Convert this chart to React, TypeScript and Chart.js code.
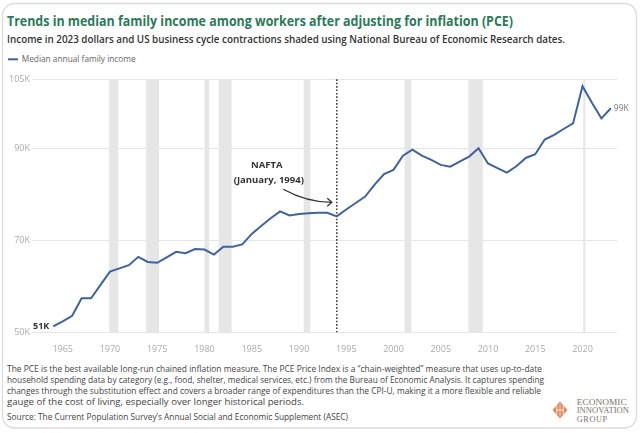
import React, { useEffect, useRef } from "react";
import { Chart, registerables } from "chart.js";

Chart.register(...registerables);

const years = [
  1964, 1965, 1966, 1967, 1968, 1969, 1970, 1971, 1972, 1973,
  1974, 1975, 1976, 1977, 1978, 1979, 1980, 1981, 1982, 1983,
  1984, 1985, 1986, 1987, 1988, 1989, 1990, 1991, 1992, 1993,
  1994, 1995, 1996, 1997, 1998, 1999, 2000, 2001, 2002, 2003,
  2004, 2005, 2006, 2007, 2008, 2009, 2010, 2011, 2012, 2013,
  2014, 2015, 2016, 2017, 2018, 2019, 2020, 2021, 2022, 2023,
];

// Median annual family income, thousands of 2023 dollars
const incomeK = [
  51.3, 52.4, 53.6, 57.4, 57.4, 60.3, 63.2, 63.9, 64.6, 66.4,
  65.3, 65.1, 66.3, 67.5, 67.2, 68.1, 68.0, 66.9, 68.6, 68.6,
  69.1, 71.4, 73.1, 74.8, 76.3, 75.4, 75.7, 75.9, 76.0, 76.0,
  75.2, 76.7, 78.1, 79.5, 82.1, 84.4, 85.3, 88.4, 89.7, 88.4,
  87.5, 86.4, 86.0, 87.1, 88.2, 90.0, 86.7, 85.7, 84.7, 86.1,
  87.9, 88.7, 91.9, 92.9, 94.2, 95.4, 103.5, 99.9, 96.5, 98.7,
];

const yTickValues = [50, 70, 90, 105];
const xTickValues = [1965, 1970, 1975, 1980, 1985, 1990, 1995, 2000, 2005, 2010, 2015, 2020];

// NBER contractions (decimal years)
const recessionStarts = [1969.92, 1973.83, 1980.0, 1981.5, 1990.5, 2001.17, 2007.92, 2020.08];
const recessionEnds = [1970.88, 1975.2, 1980.5, 1982.88, 1991.2, 2001.88, 2009.45, 2020.3];

const naftaYear = 1994;
const seriesLabel = "Median annual family income";

const LINE_COLOR = "#3f62a0";
const FONT = "'Open Sans', 'Noto Sans', sans-serif";

const overlayPlugin = {
  id: "overlay",
  beforeDatasetsDraw(chart: any) {
    const { ctx, chartArea: a, scales } = chart;
    const x = scales.x;
    ctx.save();
    ctx.fillStyle = "#e6e6e6";
    recessionStarts.forEach((s, i) => {
      const x0 = x.getPixelForValue(s);
      const x1 = x.getPixelForValue(recessionEnds[i]);
      ctx.fillRect(x0, a.top, Math.max(x1 - x0, 1.5), a.bottom - a.top);
    });
    const nx = x.getPixelForValue(naftaYear);
    ctx.strokeStyle = "#444";
    ctx.lineWidth = 1.6;
    ctx.setLineDash([1.6, 1.8]);
    ctx.beginPath();
    ctx.moveTo(nx, a.top);
    ctx.lineTo(nx, a.bottom);
    ctx.stroke();
    ctx.restore();
  },
  afterDatasetsDraw(chart: any) {
    const { ctx, scales } = chart;
    const x = scales.x;
    const y = scales.y;
    const nx = x.getPixelForValue(naftaYear);
    ctx.save();
    // NAFTA annotation
    ctx.fillStyle = "#333";
    ctx.font = `bold 9.5px ${FONT}`;
    ctx.textAlign = "center";
    ctx.textBaseline = "middle";
    ctx.fillText("NAFTA", nx - 70, y.getPixelForValue(86.2));
    ctx.fillText("(January, 1994)", nx - 68, y.getPixelForValue(83.0));
    // curved arrow
    const sx = nx - 53.5, sy = y.getPixelForValue(81.1);
    const ex = nx - 5, ey = y.getPixelForValue(78.26);
    ctx.strokeStyle = "#333";
    ctx.lineWidth = 1.3;
    ctx.beginPath();
    ctx.moveTo(sx, sy);
    ctx.quadraticCurveTo(nx - 30, ey, ex, ey);
    ctx.stroke();
    ctx.beginPath();
    ctx.moveTo(ex - 4.5, ey - 4);
    ctx.lineTo(ex, ey);
    ctx.lineTo(ex - 4.5, ey + 4);
    ctx.stroke();
    // end labels
    const first = incomeK[0];
    const last = incomeK[incomeK.length - 1];
    ctx.font = `bold 9px ${FONT}`;
    ctx.fillStyle = "#333";
    ctx.textAlign = "right";
    ctx.fillText(Math.round(first) + "K", x.getPixelForValue(years[0]) - 4, y.getPixelForValue(first));
    ctx.font = `8.5px ${FONT}`;
    ctx.fillStyle = "#777";
    ctx.textAlign = "left";
    ctx.fillText(Math.round(last) + "K", x.getPixelForValue(years[years.length - 1]) + 3, y.getPixelForValue(last));
    ctx.restore();
  },
};

const footerLines = [
  { t: "The PCE is the best available long-run chained inflation measure. The PCE Price Index is a \u201cchain-weighted\u201d measure that uses up-to-date", w: 535, y: 372.3 },
  { t: "household spending data by category (e.g., food, shelter, medical services, etc.) from the Bureau of Economic Analysis. It captures spending", w: 537, y: 383.4 },
  { t: "changes through the substitution effect and covers a broader range of expenditures than the CPI-U, making it a more flexible and reliable", w: 534, y: 394.4 },
  { t: "gauge of the cost of living, especially over longer historical periods.", w: 297, y: 405.3 },
  { t: "Source: The Current Population Survey\u2019s Annual Social and Economic Supplement (ASEC)", w: 341, y: 420.2 },
];

export default function App() {
  const canvasRef = useRef<HTMLCanvasElement | null>(null);

  useEffect(() => {
    const canvas = canvasRef.current;
    if (!canvas) return;
    const chart = new Chart(canvas, {
      type: "line",
      data: {
        datasets: [
          {
            label: seriesLabel,
            data: years.map((yr, i) => ({ x: yr, y: incomeK[i] })),
            borderColor: LINE_COLOR,
            backgroundColor: LINE_COLOR,
            borderWidth: 2,
            pointRadius: 0,
            tension: 0,
            fill: false,
          },
        ],
      },
      options: {
        responsive: false,
        maintainAspectRatio: false,
        animation: false,
        layout: { padding: { top: 13.3, right: 23, left: 0, bottom: 0 } },
        plugins: {
          legend: { display: false },
          tooltip: { enabled: false },
        },
        scales: {
          x: {
            type: "linear",
            min: 1961.75,
            max: 2023.65,
            grid: { display: false },
            border: { display: false },
            afterBuildTicks: (s: any) => {
              s.ticks = xTickValues.map((v) => ({ value: v }));
            },
            afterFit: (s: any) => {
              s.height = 23.7;
            },
            ticks: {
              color: "#aaaaaa",
              font: { family: FONT, size: 9 },
              padding: 4,
              maxRotation: 0,
              autoSkip: false,
              callback: (v: any) => String(v),
            },
          },
          y: {
            type: "linear",
            min: 50,
            max: 105,
            grid: { color: "#e6e6e6", drawTicks: false, lineWidth: 1 },
            border: { display: false },
            afterBuildTicks: (s: any) => {
              s.ticks = yTickValues.map((v) => ({ value: v }));
            },
            afterFit: (s: any) => {
              s.width = 32;
            },
            ticks: {
              color: "#aaaaaa",
              font: { family: FONT, size: 9 },
              padding: 2,
              callback: (v: any) => v + "K",
            },
          },
        },
      },
      plugins: [overlayPlugin],
    } as any);
    return () => chart.destroy();
  }, []);

  return (
    <div style={{ position: "absolute", left: 0, top: 0, width: 640, height: 433, background: "#fff", overflow: "hidden" }}>
      <svg width={640} height={433} style={{ position: "absolute", left: 0, top: 0 }}>
        <rect x={2.5} y={3.5} width={634} height={424.5} rx={12} ry={12} fill="#fff" stroke="#d9dbde" strokeWidth={1.3} />
        <text x={7} y={25.6} fontFamily={FONT} fontSize={14} fontWeight={700} fill="#2b7a58" textLength={506} lengthAdjust="spacingAndGlyphs">
          Trends in median family income among workers after adjusting for inflation (PCE)
        </text>
        <text x={7} y={42.8} fontFamily={FONT} fontSize={10} fontWeight={600} fill="#333" textLength={558} lengthAdjust="spacingAndGlyphs">
          Income in 2023 dollars and US business cycle contractions shaded using National Bureau of Economic Research dates.
        </text>
        <line x1={8} y1={59.3} x2={18} y2={59.3} stroke={LINE_COLOR} strokeWidth={2} />
        <text x={21.7} y={62.3} fontFamily={FONT} fontSize={8.5} fill="#666" textLength={114} lengthAdjust="spacingAndGlyphs">
          {seriesLabel}
        </text>
        {footerLines.map((l, i) => (
          <text key={i} x={7} y={l.y} fontFamily={FONT} fontSize={9} fill="#444" textLength={l.w} lengthAdjust="spacingAndGlyphs">
            {l.t}
          </text>
        ))}
        <g>
          <polygon points="560,401.5 567.5,410 560,418.5 552.5,410" fill="#dd8a5e" />
          <line x1={556.8} y1={405.5} x2={556.8} y2={414.5} stroke="#fff" strokeWidth={0.8} />
          <line x1={563.2} y1={405.5} x2={563.2} y2={414.5} stroke="#fff" strokeWidth={0.8} />
          <line x1={556.8} y1={410} x2={563.2} y2={410} stroke="#fff" strokeWidth={0.8} />
          <line x1={560} y1={403.5} x2={560} y2={416.5} stroke="#fff" strokeWidth={0.6} />
        </g>
        <text x={576.7} y={404.6} fontFamily="'Liberation Serif', 'DejaVu Serif', serif" fontSize={8.3} fill="#7f716a" textLength={50} lengthAdjust="spacingAndGlyphs">ECONOMIC</text>
        <text x={576.7} y={413.2} fontFamily="'Liberation Serif', 'DejaVu Serif', serif" fontSize={8.3} fill="#7f716a" textLength={52.3} lengthAdjust="spacingAndGlyphs">INNOVATION</text>
        <text x={576.7} y={421.8} fontFamily="'Liberation Serif', 'DejaVu Serif', serif" fontSize={8.3} fill="#7f716a" letterSpacing={0.6}>GROUP</text>
      </svg>
      <canvas
        ref={canvasRef}
        width={640}
        height={290}
        style={{ position: "absolute", left: 0, top: 66, width: 640, height: 290 }}
      />
    </div>
  );
}
